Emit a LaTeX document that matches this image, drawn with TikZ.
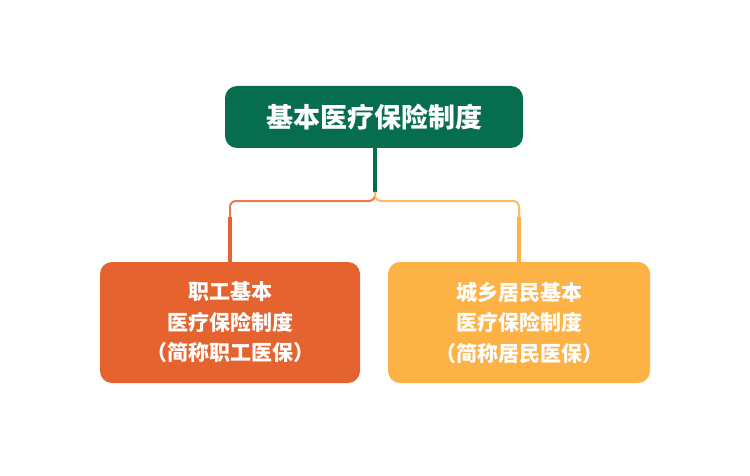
\documentclass[tikz,border=0pt]{standalone}
\usepackage{fontspec}
\newfontfamily\cjk{Noto Sans CJK SC}
\definecolor{dg}{HTML}{066D4F}
\definecolor{og}{HTML}{E5632F}
\definecolor{yl}{HTML}{FDB246}
\begin{document}
\begin{tikzpicture}[x=1pt,y=-1pt,
  box/.style={rounded corners=12pt,inner sep=0pt,align=center,text=white,font=\cjk\bfseries},
  ]
\useasboundingbox[fill=white] (0,0) rectangle (750,476);
\node[box,fill=dg,minimum width=298pt,minimum height=62pt,font=\cjk\bfseries\fontsize{27}{32}\selectfont] (top) at (374,117) {基本医疗保险制度};
\node[box,fill=og,minimum width=260pt,minimum height=121pt,font=\cjk\bfseries\fontsize{21}{30.5}\selectfont] (l) at (230,322.5) {职工基本\\医疗保险制度\\（简称职工医保）};
\node[box,fill=yl,minimum width=262pt,minimum height=121pt,font=\cjk\bfseries\fontsize{21}{30.5}\selectfont] (r) at (519,322.5) {城乡居民基本\\医疗保险制度\\（简称居民医保）};
\coordinate (s) at (375,192);
\draw[dg,line width=4pt] (top.south -| s) -- (s);
\draw[og!85,line width=2pt,rounded corners=6pt] (s) -- (375,201) -- (230,201) -- (230,220);
\draw[yl!85,line width=2pt,rounded corners=6pt] (s) -- (375,201) -- (519,201) -- (519,220);
\draw[og,line width=4pt] (230,217) -- (l.north -| 230,0);
\draw[yl,line width=4pt] (519,217) -- (r.north -| 519,0);
\end{tikzpicture}
\end{document}
